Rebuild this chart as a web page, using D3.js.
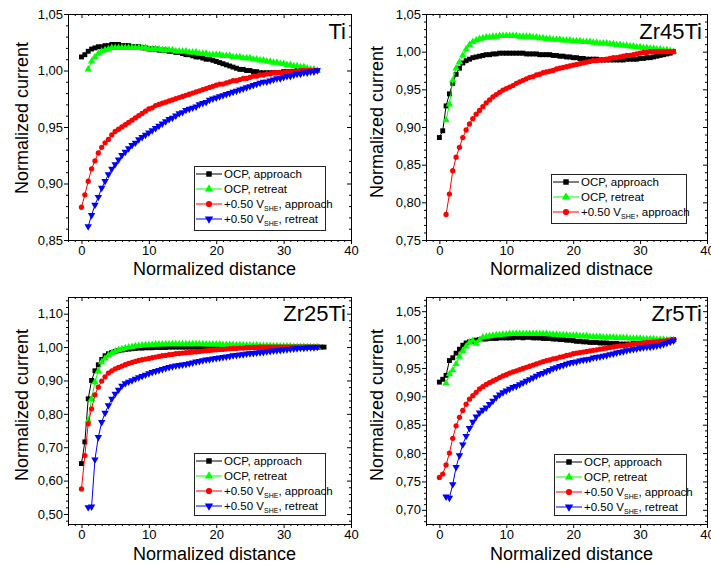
<!DOCTYPE html>
<html><head><meta charset="utf-8">
<script src="https://cdn.jsdelivr.net/npm/d3@7"></script>
<style>
body{margin:0;background:#fff}
svg{display:block}
text{font-family:"Liberation Sans",Arial,sans-serif;fill:#000}
</style>
</head><body>
<svg id="c" width="711" height="566"></svg>
<script>
// ---- x sampling grids (normalized distance) ----
const gridA = [0,0.5,1,1.5,2,2.5,3,3.5,4,4.5,
 5,5.5,6,6.5,7,7.5,8,8.5,9,9.5,
 10,10.5,11,11.5,12,12.5,13,13.5,14,14.5,
 15,15.5,16,16.5,17,17.5,18,18.5,19,19.5,
 20,20.5,21,21.5,22,22.5,23,23.5,24,24.5,
 25,25.5,26,26.5,27,27.5,28,28.5,29,29.5,
 30,30.5,31,31.5,32,32.5,33,33.5,34,34.5,
 35];
const gridB = [1,1.5,2,2.5,3,3.5,4,4.5,5,5.5,
 6,6.5,7,7.5,8,8.5,9,9.5,10,10.5,
 11,11.5,12,12.5,13,13.5,14,14.5,15,15.5,
 16,16.5,17,17.5,18,18.5,19,19.5,20,20.5,
 21,21.5,22,22.5,23,23.5,24,24.5,25,25.5,
 26,26.5,27,27.5,28,28.5,29,29.5,30,30.5,
 31,31.5,32,32.5,33,33.5,34,34.5,35];
const gridC = [0,0.5,1,1.5,2,2.5,3,3.5,4,4.5,
 5,5.5,6,6.5,7,7.5,8,8.5,9,9.5,
 10,10.5,11,11.5,12,12.5,13,13.5,14,14.5,
 15,15.5,16,16.5,17,17.5,18,18.5,19,19.5,
 20,20.5,21,21.5,22,22.5,23,23.5,24,24.5,
 25,25.5,26,26.5,27,27.5,28,28.5,29,29.5,
 30,30.5,31,31.5,32,32.5,33,33.5,34,34.5,
 35,35.5,36];

// ---- Ti ----
const tiOcpApproach = [1.012,1.014,1.017,1.019,1.020,1.021,1.021,1.022,1.022,1.023,
 1.023,1.023,1.022,1.022,1.022,1.021,1.021,1.021,1.020,1.020,
 1.019,1.019,1.019,1.018,1.018,1.018,1.017,1.017,1.016,1.016,
 1.015,1.014,1.014,1.013,1.012,1.012,1.011,1.010,1.010,1.009,
 1.008,1.007,1.006,1.005,1.004,1.003,1.002,1.001,1.001,1.000,
 1.000,0.999,0.999,0.998,0.998,0.998,0.998,0.998,0.998,0.998,
 0.999,0.999,0.999,0.999,1.000,1.000,1.000,1.000,1.000,1.000,
 1.000];
const tiOcpRetreat = [1.001,1.008,1.012,1.015,1.017,1.018,1.019,1.020,1.020,1.020,
 1.020,1.020,1.020,1.020,1.020,1.020,1.020,1.020,1.019,1.019,
 1.019,1.019,1.018,1.018,1.018,1.018,1.017,1.017,1.017,1.017,
 1.016,1.016,1.016,1.015,1.015,1.015,1.014,1.014,1.014,1.014,
 1.013,1.013,1.013,1.012,1.012,1.012,1.011,1.011,1.011,1.010,
 1.010,1.009,1.009,1.008,1.008,1.007,1.007,1.006,1.006,1.005,
 1.005,1.004,1.004,1.003,1.003,1.002,1.001,1.001,1.000];
const tiPolApproach = [0.879,0.890,0.902,0.913,0.920,0.927,0.932,0.936,0.939,0.943,
 0.946,0.948,0.950,0.952,0.954,0.956,0.958,0.960,0.962,0.964,
 0.966,0.967,0.969,0.970,0.971,0.972,0.973,0.974,0.975,0.976,
 0.977,0.978,0.979,0.980,0.981,0.982,0.983,0.984,0.985,0.986,
 0.987,0.988,0.988,0.989,0.990,0.991,0.991,0.992,0.993,0.993,
 0.994,0.995,0.995,0.996,0.996,0.997,0.997,0.998,0.998,0.998,
 0.998,0.999,0.999,0.999,0.999,1.000,1.000,1.000,1.000,1.000,
 1.000];
const tiPolRetreat = [0.862,0.872,0.881,0.888,0.896,0.902,0.908,0.913,0.917,0.921,
 0.925,0.928,0.931,0.934,0.936,0.939,0.941,0.943,0.945,0.947,
 0.949,0.951,0.953,0.955,0.957,0.958,0.960,0.962,0.963,0.965,
 0.966,0.967,0.968,0.970,0.971,0.972,0.974,0.975,0.976,0.977,
 0.978,0.979,0.980,0.981,0.982,0.983,0.984,0.985,0.986,0.987,
 0.988,0.989,0.990,0.990,0.991,0.992,0.993,0.993,0.994,0.995,
 0.995,0.996,0.997,0.997,0.998,0.998,0.999,0.999,1.000];

// ---- Zr45Ti ----
const zr45OcpApproach = [0.886,0.895,0.928,0.944,0.958,0.970,0.978,0.985,0.988,0.990,
 0.992,0.993,0.994,0.995,0.996,0.996,0.997,0.997,0.998,0.998,
 0.998,0.998,0.998,0.998,0.998,0.998,0.997,0.997,0.997,0.997,
 0.996,0.996,0.996,0.996,0.995,0.995,0.994,0.994,0.993,0.993,
 0.992,0.992,0.991,0.991,0.990,0.990,0.990,0.990,0.989,0.989,
 0.989,0.989,0.989,0.989,0.989,0.989,0.990,0.990,0.990,0.990,
 0.991,0.991,0.992,0.992,0.993,0.994,0.995,0.996,0.997,0.998,
 1.000];
const zr45OcpRetreat = [0.909,0.930,0.962,0.978,0.986,0.995,1.003,1.009,1.013,1.015,
 1.017,1.018,1.019,1.019,1.020,1.020,1.021,1.021,1.021,1.021,
 1.021,1.021,1.020,1.020,1.020,1.020,1.019,1.019,1.018,1.018,
 1.017,1.017,1.016,1.016,1.016,1.015,1.015,1.015,1.014,1.014,
 1.014,1.013,1.013,1.013,1.012,1.012,1.011,1.011,1.011,1.010,
 1.010,1.009,1.009,1.008,1.008,1.007,1.007,1.006,1.006,1.005,
 1.005,1.004,1.004,1.003,1.003,1.002,1.002,1.001,1.000];
const zr45PolApproach = [0.784,0.811,0.842,0.860,0.873,0.886,0.896,0.904,0.911,0.917,
 0.922,0.927,0.932,0.936,0.940,0.943,0.946,0.949,0.951,0.953,
 0.955,0.958,0.960,0.962,0.964,0.966,0.967,0.969,0.970,0.972,
 0.973,0.974,0.975,0.977,0.978,0.979,0.980,0.981,0.982,0.983,
 0.984,0.985,0.986,0.987,0.988,0.988,0.989,0.989,0.990,0.991,
 0.992,0.992,0.993,0.994,0.995,0.995,0.996,0.997,0.998,0.999,
 0.999,1.000,1.000,1.000,1.000,1.000,1.000,1.000,1.000];

// ---- Zr25Ti ----
const zr25OcpApproach = [0.651,0.716,0.845,0.900,0.929,0.947,0.963,0.974,0.980,0.984,
 0.987,0.989,0.991,0.993,0.994,0.995,0.996,0.997,0.997,0.998,
 0.998,0.998,0.999,0.999,0.999,0.999,1.000,1.000,1.000,1.000,
 1.000,1.000,1.000,1.000,1.000,1.000,1.000,1.000,1.000,1.000,
 1.000,1.000,1.000,1.000,1.000,1.000,1.000,1.000,1.000,1.000,
 1.000,1.000,1.000,1.000,1.000,1.000,1.000,1.000,1.000,1.000,
 1.000,1.000,1.000,1.000,1.000,1.000,1.000,1.000,1.000,1.000,
 1.000,1.000,1.000];
const zr25OcpRetreat = [0.780,0.845,0.895,0.928,0.955,0.966,0.975,0.982,0.987,0.991,
 0.994,0.997,0.999,1.001,1.003,1.004,1.005,1.006,1.007,1.007,
 1.008,1.008,1.008,1.009,1.009,1.009,1.009,1.009,1.009,1.009,
 1.009,1.009,1.009,1.009,1.009,1.008,1.008,1.008,1.008,1.008,
 1.007,1.007,1.007,1.007,1.006,1.006,1.006,1.005,1.005,1.005,
 1.005,1.004,1.004,1.004,1.003,1.003,1.003,1.002,1.002,1.002,
 1.002,1.001,1.001,1.001,1.001,1.000,1.000,1.000,1.000];
const zr25PolApproach = [0.575,0.675,0.770,0.815,0.857,0.880,0.898,0.911,0.922,0.929,
 0.935,0.939,0.943,0.947,0.951,0.954,0.957,0.960,0.962,0.964,
 0.966,0.968,0.970,0.972,0.974,0.975,0.977,0.978,0.980,0.981,
 0.982,0.983,0.984,0.985,0.986,0.987,0.988,0.989,0.990,0.991,
 0.992,0.993,0.993,0.994,0.995,0.996,0.996,0.997,0.997,0.998,
 0.998,0.999,0.999,1.000,1.000,1.000,1.000,1.000,1.000,1.000,
 1.000,1.000,1.000,1.000,1.000,1.000,1.000,1.000,1.000,1.000,
 1.000];
const zr25PolRetreat = [0.520,0.522,0.663,0.730,0.775,0.803,0.825,0.845,0.860,0.872,
 0.884,0.891,0.896,0.900,0.905,0.909,0.913,0.917,0.921,0.925,
 0.928,0.931,0.934,0.937,0.940,0.942,0.944,0.946,0.947,0.949,
 0.951,0.953,0.956,0.958,0.960,0.962,0.963,0.965,0.967,0.968,
 0.970,0.971,0.973,0.975,0.976,0.977,0.978,0.980,0.981,0.982,
 0.983,0.984,0.985,0.987,0.988,0.989,0.990,0.991,0.992,0.993,
 0.994,0.995,0.996,0.997,0.997,0.998,0.999,0.999,1.000];

// ---- Zr5Ti ----
const zr5OcpApproach = [0.925,0.930,0.937,0.963,0.968,0.976,0.983,0.990,0.994,0.996,
 0.997,0.999,1.000,1.001,1.001,1.002,1.002,1.002,1.003,1.003,
 1.003,1.003,1.003,1.004,1.004,1.003,1.004,1.004,1.003,1.003,
 1.003,1.002,1.002,1.002,1.001,1.001,1.000,1.000,0.999,0.999,
 0.998,0.997,0.997,0.996,0.996,0.995,0.995,0.995,0.994,0.994,
 0.994,0.993,0.993,0.993,0.992,0.992,0.992,0.992,0.993,0.993,
 0.993,0.994,0.994,0.995,0.995,0.996,0.996,0.997,0.998,0.999,
 1.000];
const zr5OcpRetreat = [0.923,0.939,0.946,0.957,0.970,0.980,0.988,0.995,0.998,0.993,
 0.999,1.004,1.005,1.006,1.007,1.008,1.008,1.009,1.009,1.010,
 1.010,1.010,1.010,1.010,1.010,1.010,1.010,1.010,1.010,1.010,
 1.010,1.009,1.009,1.009,1.008,1.008,1.008,1.007,1.007,1.007,
 1.006,1.006,1.006,1.005,1.005,1.005,1.005,1.004,1.004,1.004,
 1.004,1.003,1.003,1.003,1.003,1.002,1.002,1.002,1.002,1.001,
 1.001,1.001,1.001,1.000,1.000,1.000,0.999,0.999,0.999];
const zr5PolApproach = [0.757,0.763,0.779,0.800,0.826,0.848,0.863,0.875,0.886,0.895,
 0.901,0.907,0.913,0.917,0.921,0.924,0.927,0.930,0.933,0.936,
 0.938,0.941,0.943,0.945,0.947,0.949,0.951,0.953,0.955,0.957,
 0.959,0.961,0.963,0.964,0.966,0.967,0.969,0.970,0.972,0.973,
 0.975,0.976,0.977,0.978,0.979,0.980,0.981,0.982,0.983,0.984,
 0.985,0.986,0.987,0.988,0.989,0.989,0.990,0.991,0.992,0.993,
 0.993,0.994,0.995,0.995,0.996,0.996,0.997,0.997,0.998,0.998,
 0.999];
const zr5PolRetreat = [0.723,0.721,0.745,0.775,0.796,0.815,0.830,0.844,0.855,0.864,
 0.871,0.876,0.880,0.886,0.892,0.898,0.903,0.907,0.910,0.913,
 0.916,0.918,0.921,0.924,0.927,0.930,0.933,0.936,0.939,0.941,
 0.944,0.946,0.949,0.951,0.953,0.955,0.957,0.959,0.960,0.961,
 0.963,0.964,0.965,0.966,0.968,0.969,0.970,0.971,0.972,0.974,
 0.975,0.977,0.978,0.979,0.981,0.982,0.983,0.984,0.985,0.986,
 0.987,0.987,0.988,0.989,0.990,0.992,0.994,0.996,0.998];

// ---- ticks / labels ----
const xTicks = [0, 10, 20, 30, 40];
const yTicksTi = [0.85, 0.90, 0.95, 1.00, 1.05];
const yTicksZr45 = [0.75, 0.80, 0.85, 0.90, 0.95, 1.00, 1.05];
const yTicksZr25 = [0.50, 0.60, 0.70, 0.80, 0.90, 1.00, 1.10];
const yTicksZr5 = [0.70, 0.75, 0.80, 0.85, 0.90, 0.95, 1.00, 1.05];
const panelNames = ["Ti", "Zr45Ti", "Zr25Ti", "Zr5Ti"];
const xTitles = ["Normalized distance", "Normalized distnace", "Normalized distance", "Normalized distance"];
const yTitle = "Normalized current";

// series styles
const styles = [
  {color: "#000000", sym: "square"},
  {color: "#00ff00", sym: "up"},
  {color: "#ff0000", sym: "circle"},
  {color: "#0000ff", sym: "down"}
];
const legendLabels = [
  {main: "OCP, approach"},
  {main: "OCP, retreat"},
  {pre: "+0.50 V", sub: "SHE", post: ", approach"},
  {pre: "+0.50 V", sub: "SHE", post: ", retreat"}
];

const panels = [
  {name: panelNames[0], l: 68, r: 351, t: 14, b: 240, yDom: [0.85, 1.05], yTicks: yTicksTi, minorY: 0.01,
   series: [[gridA, tiOcpApproach], [gridB, tiOcpRetreat], [gridA, tiPolApproach], [gridB, tiPolRetreat]],
   xTitle: xTitles[0], yTitleX: 28, yTitleY: 118, xTitleY: 275, legend: {x: 194, y: 166, w: 131, h: 64}},
  {name: panelNames[1], l: 426, r: 707, t: 14, b: 240, yDom: [0.75, 1.05], yTicks: yTicksZr45, minorY: 0.01,
   series: [[gridA, zr45OcpApproach], [gridB, zr45OcpRetreat], [gridB, zr45PolApproach]],
   xTitle: xTitles[1], yTitleX: 383, yTitleY: 122, xTitleY: 275, legend: {x: 551, y: 174, w: 135, h: 49}},
  {name: panelNames[2], l: 68, r: 351, t: 297, b: 524, yDom: [0.47, 1.15], yTicks: yTicksZr25, minorY: 0.02,
   series: [[gridC, zr25OcpApproach], [gridB, zr25OcpRetreat], [gridA, zr25PolApproach], [gridB, zr25PolRetreat]],
   xTitle: xTitles[2], yTitleX: 28, yTitleY: 405, xTitleY: 560, legend: {x: 194, y: 453, w: 131, h: 62}},
  {name: panelNames[3], l: 426, r: 707, t: 297, b: 524, yDom: [0.675, 1.075], yTicks: yTicksZr5, minorY: 0.01,
   series: [[gridA, zr5OcpApproach], [gridB, zr5OcpRetreat], [gridA, zr5PolApproach], [gridB, zr5PolRetreat]],
   xTitle: xTitles[3], yTitleX: 383, yTitleY: 405, xTitleY: 560, legend: {x: 554, y: 454, w: 132, h: 61}}
];

const svg = d3.select("#c");
const fmt = v => d3.format(".2f")(v).replace(".", ",");
const xDomain = [-2, 40];

function symPath(kind, size) {
  if (kind === "square") return d3.symbol().type(d3.symbolSquare).size(size || 24)();
  if (kind === "circle") return d3.symbol().type(d3.symbolCircle).size(size || 22)();
  return d3.symbol().type(d3.symbolTriangle).size(size || 24)();
}

function minorVals(lo, hi, step, majors) {
  const out = [];
  const n0 = Math.ceil(lo / step - 1e-9), n1 = Math.floor(hi / step + 1e-9);
  for (let i = n0; i <= n1; i++) {
    const v = +(i * step).toFixed(6);
    if (!majors.some(m => Math.abs(m - v) < 1e-9)) out.push(v);
  }
  return out;
}

panels.forEach(p => {
  const g = svg.append("g");
  const x = d3.scaleLinear().domain(xDomain).range([p.l, p.r]);
  const y = d3.scaleLinear().domain(p.yDom).range([p.b, p.t]);

  const styleAxis = a => {
    a.select(".domain").remove();
    a.selectAll("line").attr("stroke", "#000").attr("stroke-width", 1);
    a.selectAll("text").attr("font-size", 13).attr("font-family", "'Liberation Sans', Arial, sans-serif");
  };
  const xMinor = minorVals(xDomain[0], xDomain[1], 1, xTicks);
  const yMinor = minorVals(p.yDom[0], p.yDom[1], p.minorY, p.yTicks);

  // left
  g.append("g").attr("transform", `translate(${p.l},0)`)
    .call(d3.axisLeft(y).tickValues(p.yTicks).tickSize(4).tickPadding(1).tickFormat(fmt)).call(styleAxis);
  g.append("g").attr("transform", `translate(${p.l},0)`)
    .call(d3.axisLeft(y).tickValues(yMinor).tickSize(2).tickFormat("")).call(styleAxis);
  // right (inward)
  g.append("g").attr("transform", `translate(${p.r},0)`)
    .call(d3.axisRight(y).tickValues(p.yTicks).tickSize(-4).tickFormat("")).call(styleAxis);
  g.append("g").attr("transform", `translate(${p.r},0)`)
    .call(d3.axisRight(y).tickValues(yMinor).tickSize(-2).tickFormat("")).call(styleAxis);
  // bottom
  g.append("g").attr("transform", `translate(0,${p.b})`)
    .call(d3.axisBottom(x).tickValues(xTicks).tickSize(4).tickPadding(2).tickFormat(d3.format("d"))).call(styleAxis);
  g.append("g").attr("transform", `translate(0,${p.b})`)
    .call(d3.axisBottom(x).tickValues(xMinor).tickSize(2).tickFormat("")).call(styleAxis);
  // top (inward)
  g.append("g").attr("transform", `translate(0,${p.t})`)
    .call(d3.axisTop(x).tickValues(xTicks).tickSize(-4).tickFormat("")).call(styleAxis);
  g.append("g").attr("transform", `translate(0,${p.t})`)
    .call(d3.axisTop(x).tickValues(xMinor).tickSize(-2).tickFormat("")).call(styleAxis);

  // frame
  g.append("rect").attr("x", p.l + 0.5).attr("y", p.t + 0.5)
    .attr("width", p.r - p.l).attr("height", p.b - p.t)
    .attr("fill", "none").attr("stroke", "#000").attr("stroke-width", 1);

  // data
  p.series.forEach((s, i) => {
    const [xs, ys] = s;
    const pts = ys.map((v, k) => [xs[k], v]).filter(d => d[0] !== undefined);
    const st = styles[i];
    g.append("path").datum(pts)
      .attr("d", d3.line().x(d => x(d[0])).y(d => y(d[1])))
      .attr("fill", "none").attr("stroke", st.color).attr("stroke-width", 1);
    g.append("g").selectAll("path").data(pts).join("path")
      .attr("d", symPath(st.sym))
      .attr("transform", d => `translate(${x(d[0])},${y(d[1])})` + (st.sym === "down" ? " rotate(180)" : ""))
      .attr("fill", st.color);
  });

  // panel name
  g.append("text").attr("x", p.r - 5).attr("y", p.t === 14 ? 39 : 321)
    .attr("text-anchor", "end").attr("font-size", 22).text(p.name);

  // axis titles
  g.append("text").attr("x", (p.l + p.r) / 2 + 5).attr("y", p.xTitleY)
    .attr("text-anchor", "middle").attr("font-size", 18).text(p.xTitle);
  g.append("text").attr("transform", `translate(${p.yTitleX},${p.yTitleY}) rotate(-90)`)
    .attr("text-anchor", "middle").attr("font-size", 18).text(yTitle);

  // legend
  const L = p.legend;
  const lg = g.append("g");
  lg.append("rect").attr("x", L.x + 0.5).attr("y", L.y + 0.5).attr("width", L.w).attr("height", L.h)
    .attr("fill", "#fff").attr("stroke", "#222").attr("stroke-width", 1);
  p.series.forEach((s, i) => {
    const cy = L.y + 8 + i * 15;
    const st = styles[i];
    lg.append("line").attr("x1", L.x + 2).attr("x2", L.x + 28).attr("y1", cy).attr("y2", cy)
      .attr("stroke", st.color).attr("stroke-width", 1);
    lg.append("path").attr("d", symPath(st.sym, 30))
      .attr("transform", `translate(${L.x + 15},${cy})` + (st.sym === "down" ? " rotate(180)" : ""))
      .attr("fill", st.color);
    const lab = legendLabels[i];
    const t = lg.append("text").attr("x", L.x + 30).attr("y", cy + 4).attr("font-size", 11.5);
    if (lab.main) t.text(lab.main);
    else {
      t.append("tspan").text(lab.pre);
      t.append("tspan").attr("font-size", 7).attr("dy", 3).text(lab.sub);
      t.append("tspan").attr("dy", -3).text(lab.post);
    }
  });
});
</script>
</body></html>
